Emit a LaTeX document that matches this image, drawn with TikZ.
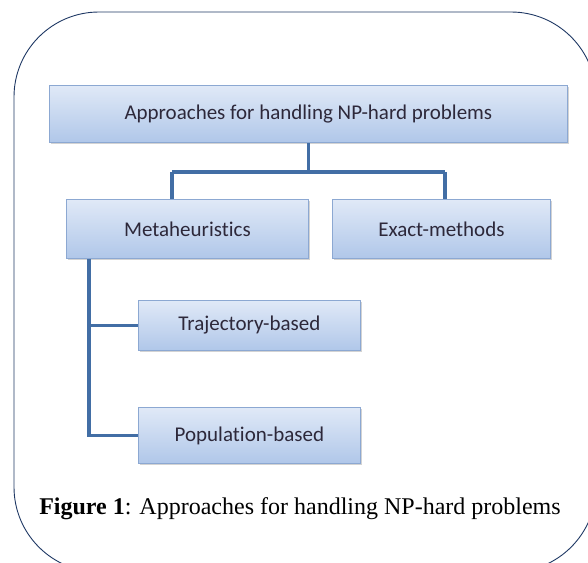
\documentclass[tikz,border=0pt]{standalone}
\usepackage{fontspec}
\setmainfont{Liberation Serif}
\newfontfamily\boxfont[Ligatures=NoCommon]{Carlito}
\usepackage{tikz}
\usetikzlibrary{shadows,positioning}
\definecolor{frameblue}{RGB}{31,56,100}
\definecolor{linkblue}{RGB}{66,110,165}
\definecolor{boxtop}{RGB}{224,233,247}
\definecolor{boxbot}{RGB}{176,199,233}
\definecolor{boxedge}{RGB}{140,168,210}
\definecolor{boxtext}{RGB}{45,40,58}

\begin{document}
\begin{tikzpicture}[x=1pt, y=-1pt,
    box/.style={draw=boxedge, line width=0.8pt, top color=boxtop, bottom color=boxbot,
                anchor=north west, inner sep=0pt, text=boxtext,
                font=\boxfont\fontsize{21}{24}\selectfont,
                drop shadow={opacity=0.35, shadow xshift=1.5pt, shadow yshift=-2pt}},
    link/.style={draw=linkblue, line width=3.8pt},
  ]
  \useasboundingbox (0,0) rectangle (588,562);
  \draw[frameblue, line width=0.9pt, rounded corners=85pt] (14,12) rectangle (596,572);

  \node[box, minimum width=518pt, minimum height=57pt] (top) at (49,85) {Approaches for handling NP-hard problems};
  \node[box, minimum width=242pt, minimum height=59pt] (meta) at (66,199) {Metaheuristics};
  \node[box, minimum width=218pt, minimum height=59pt] (exact) at (332,199) {Exact-methods};
  \node[box, minimum width=222pt, minimum height=50pt] (traj) at (138,300) {Trajectory-based};
  \node[box, minimum width=222pt, minimum height=56pt] (pop) at (138,407) {Population-based};

  % fork under the top box
  \coordinate (fork) at (top.south |- 0,172);
  \coordinate (forkL) at (172,172);
  \coordinate (forkR) at (445,172);
  \coordinate (trunk) at (89,0);
  \draw[link] (top.south) -- (fork);
  \draw[link] (forkL) -- (forkR);
  \draw[link] (forkL) -- (forkL |- meta.north);
  \draw[link] (forkR) -- (forkR |- exact.north);
  \draw[link] (trunk |- meta.south) -- (trunk |- pop.west) -- (pop.west);
  \draw[link] (trunk |- traj.west) -- (traj.west);

  \node[font=\fontsize{24}{28}\selectfont] (caption) at (300,509) {\textbf{Figure 1}: Approaches for handling NP-hard problems};
\end{tikzpicture}
\end{document}
